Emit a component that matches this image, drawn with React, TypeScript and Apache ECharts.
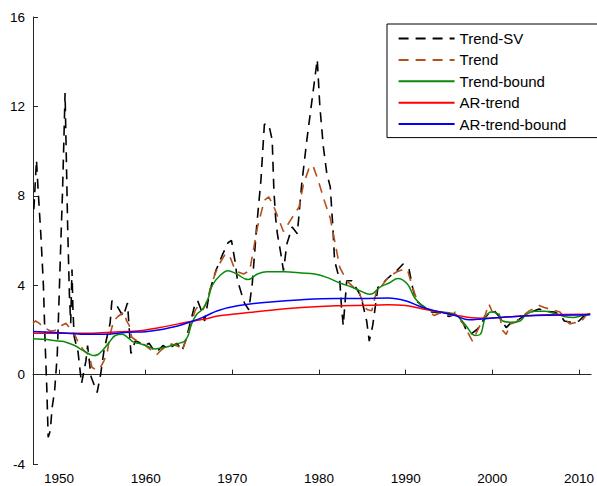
import React, { useEffect, useRef } from "react";
import * as echarts from "echarts";

const seriesNames = ["Trend-SV", "Trend", "Trend-bound", "AR-trend", "AR-trend-bound"];
const xTicks = [1950, 1960, 1970, 1980, 1990, 2000, 2010];

const trendSV: [number, number][] = [
  [1947.1, 7.4], [1947.4, 9.6], [1947.6, 8.2], [1947.9, 6.3], [1948.2, 4.0], [1948.4, 1.4],
  [1948.6, -0.7], [1948.75, -2.8], [1949.0, -2.5], [1949.2, -1.5], [1949.5, -0.7], [1949.8, 0.9],
  [1950.0, 3.3], [1950.2, 5.8], [1950.4, 8.1], [1950.55, 10.3], [1950.7, 12.6], [1950.85, 9.6],
  [1951.0, 6.6], [1951.2, 3.6], [1951.35, 2.3], [1951.5, 4.7], [1951.6, 3.0], [1951.75, 1.7],
  [1952.2, 1.0], [1952.6, -0.4], [1953.1, 0.6], [1953.3, 1.3], [1953.7, -0.1], [1954.4, -0.8],
  [1954.8, 0.0], [1955.2, 1.1], [1955.9, 2.3], [1956.1, 3.3], [1956.5, 3.2], [1957.4, 2.6],
  [1957.9, 3.2], [1958.3, 0.95], [1958.8, 1.5], [1959.2, 1.45], [1959.8, 1.3], [1960.4, 1.4],
  [1961.1, 1.0], [1961.5, 1.1], [1962.0, 1.3], [1962.6, 1.15], [1963.2, 1.3], [1963.6, 1.4],
  [1964.0, 1.2], [1964.2, 1.07], [1964.6, 1.5], [1965.0, 2.1], [1965.4, 2.7], [1965.7, 3.16],
  [1966.0, 3.3], [1966.5, 2.8], [1966.8, 2.4], [1967.4, 3.75], [1968.1, 4.65], [1968.9, 5.4],
  [1969.5, 5.9], [1969.9, 6.0], [1970.3, 5.1], [1970.6, 4.2], [1971.4, 3.2], [1971.9, 2.9],
  [1972.3, 4.07], [1972.8, 6.6], [1973.3, 8.7], [1973.7, 11.2], [1974.2, 11.2], [1974.6, 10.5],
  [1974.8, 8.2], [1975.0, 7.0], [1975.2, 6.3], [1975.6, 5.4], [1975.9, 4.65], [1976.3, 5.85],
  [1976.9, 6.6], [1977.5, 6.3], [1978.0, 8.5], [1978.6, 10.5], [1979.2, 12.3], [1979.8, 14.1],
  [1980.1, 12.0], [1980.5, 10.2], [1980.9, 9.0], [1981.3, 8.4], [1981.6, 6.6], [1981.8, 5.1],
  [1982.4, 4.2], [1982.6, 3.0], [1982.8, 2.2], [1983.2, 4.2], [1983.8, 4.2], [1984.7, 3.6],
  [1984.9, 3.4], [1985.5, 2.4], [1985.8, 1.5], [1986.2, 2.2], [1986.8, 3.9], [1987.4, 4.1],
  [1987.9, 4.3], [1989.1, 4.7], [1989.7, 4.95], [1990.4, 4.7], [1990.8, 3.9], [1991.2, 3.3],
  [1991.9, 3.1], [1993.0, 2.8], [1994.2, 2.75], [1995.0, 2.6], [1995.7, 2.7], [1996.7, 2.27],
  [1997.0, 1.97], [1997.6, 1.83], [1998.3, 2.04], [1998.9, 2.4], [1999.5, 2.7], [2000.2, 2.86],
  [2000.9, 2.56], [2001.6, 2.1], [2002.2, 2.34], [2003.0, 2.45], [2003.7, 2.64], [2004.5, 2.8],
  [2005.4, 2.94], [2006.2, 2.83], [2007.2, 2.8], [2007.9, 2.64], [2008.3, 2.4], [2009.1, 2.34],
  [2010.0, 2.4], [2010.6, 2.64], [2011.3, 2.7],
];

const trend: [number, number][] = [
  [1947.0, 2.3], [1947.3, 2.4], [1947.7, 2.3], [1948.3, 2.1], [1949.0, 1.95], [1949.5, 1.97],
  [1949.9, 2.1], [1950.3, 2.2], [1950.8, 2.3], [1951.2, 2.1], [1951.8, 1.8], [1952.3, 1.37],
  [1952.9, 1.07], [1953.5, 0.85], [1953.8, 0.33], [1954.3, 0.2], [1954.8, 0.33], [1955.2, 0.63],
  [1955.6, 1.07], [1955.9, 1.8], [1956.3, 2.4], [1956.8, 2.6], [1957.5, 2.8], [1957.8, 2.4],
  [1958.1, 2.2], [1958.4, 1.67], [1959.2, 1.45], [1959.8, 1.35], [1960.7, 1.07], [1961.3, 0.9],
  [1961.8, 1.1], [1962.5, 1.3], [1963.0, 1.37], [1963.5, 1.3], [1964.0, 1.22], [1964.2, 1.07],
  [1964.7, 1.6], [1965.3, 2.34], [1965.7, 2.86], [1966.1, 3.1], [1966.6, 2.9], [1967.0, 3.2],
  [1967.5, 3.9], [1968.0, 4.5], [1968.5, 4.95], [1969.2, 5.4], [1969.7, 5.3], [1970.2, 4.8],
  [1970.6, 4.6], [1971.3, 4.5], [1972.0, 4.65], [1972.4, 5.5], [1972.9, 6.6], [1973.7, 7.8],
  [1974.2, 7.95], [1974.7, 7.6], [1975.4, 6.9], [1975.9, 6.4], [1976.7, 6.9], [1977.7, 7.5],
  [1978.2, 8.5], [1978.9, 9.3], [1979.3, 9.35], [1979.9, 8.7], [1980.6, 7.8], [1981.3, 7.0],
  [1981.8, 6.0], [1982.4, 4.8], [1983.2, 4.2], [1984.0, 3.9], [1984.7, 3.6], [1985.3, 3.0],
  [1985.6, 2.9], [1986.1, 2.86], [1986.6, 3.68], [1987.4, 4.05], [1988.1, 4.4], [1989.0, 4.6],
  [1989.7, 4.7], [1990.2, 4.7], [1990.8, 3.9], [1991.4, 3.23], [1992.3, 2.94], [1993.3, 2.64],
  [1994.2, 2.8], [1995.4, 2.64], [1995.7, 2.8], [1996.3, 2.5], [1997.3, 1.8], [1997.7, 1.5],
  [1998.2, 1.9], [1999.2, 2.7], [1999.6, 3.16], [2000.0, 2.8], [2000.7, 2.86], [2001.2, 1.97],
  [2001.6, 1.8], [2002.1, 2.27], [2002.7, 2.34], [2003.3, 2.56], [2004.3, 2.86], [2005.4, 3.09],
  [2006.0, 3.0], [2007.3, 2.86], [2007.8, 2.8], [2008.3, 2.56], [2008.9, 2.27], [2009.8, 2.34],
  [2010.3, 2.4], [2010.8, 2.64], [2011.3, 2.74],
];

const trendBound: [number, number][] = [
  [1947.0, 1.6], [1948.0, 1.58], [1949.0, 1.55], [1950.0, 1.5], [1950.8, 1.45], [1951.8, 1.3],
  [1952.8, 1.07], [1953.5, 0.92], [1954.0, 0.85], [1954.5, 0.9], [1955.0, 1.07], [1955.8, 1.45],
  [1956.5, 1.75], [1957.3, 1.8], [1957.9, 1.67], [1958.6, 1.45], [1959.2, 1.4], [1960.0, 1.3],
  [1961.1, 1.15], [1962.0, 1.2], [1963.0, 1.3], [1964.0, 1.42], [1964.5, 1.5], [1964.9, 1.75],
  [1965.3, 2.27], [1965.9, 2.7], [1966.6, 2.94], [1967.2, 3.4], [1967.7, 4.0], [1968.5, 4.4],
  [1969.5, 4.65], [1970.5, 4.5], [1971.8, 4.25], [1972.9, 4.5], [1974.0, 4.6], [1976.0, 4.6],
  [1978.0, 4.55], [1979.5, 4.5], [1980.9, 4.35], [1982.4, 4.1], [1983.9, 3.9], [1985.0, 3.7],
  [1985.8, 3.6], [1986.3, 3.65], [1987.0, 3.9], [1988.1, 4.1], [1989.1, 4.3], [1990.2, 4.05],
  [1991.0, 3.46], [1991.7, 3.16], [1992.9, 2.86], [1994.2, 2.8], [1995.7, 2.7], [1996.9, 2.22],
  [1998.0, 1.75], [1998.6, 1.8], [1999.2, 2.56], [1999.9, 2.8], [2000.7, 2.7], [2001.2, 2.4],
  [2002.2, 2.34], [2003.2, 2.4], [2003.9, 2.68], [2004.9, 2.83], [2006.0, 2.83], [2007.2, 2.74],
  [2008.3, 2.6], [2009.4, 2.56], [2010.4, 2.64], [2011.3, 2.74],
];

const arTrend: [number, number][] = [
  [1947.0, 1.85], [1950.0, 1.85], [1953.0, 1.85], [1956.0, 1.9], [1959.0, 1.95], [1961.5, 2.1],
  [1963.8, 2.27], [1965.5, 2.4], [1967.0, 2.5], [1968.3, 2.62], [1970.6, 2.72], [1974.4, 2.88],
  [1978.0, 3.0], [1982.0, 3.08], [1986.0, 3.1], [1988.0, 3.13], [1990.0, 3.09], [1992.0, 2.94],
  [1994.0, 2.8], [1996.0, 2.65], [1997.6, 2.54], [1999.0, 2.52], [2001.0, 2.56], [2005.0, 2.66],
  [2011.3, 2.7],
];

const arTrendBound: [number, number][] = [
  [1947.0, 1.93], [1950.0, 1.87], [1953.5, 1.8], [1956.0, 1.82], [1958.0, 1.9], [1960.0, 1.92],
  [1961.5, 2.0], [1963.8, 2.19], [1965.5, 2.4], [1966.8, 2.6], [1968.3, 2.86], [1970.6, 3.08],
  [1974.4, 3.25], [1978.0, 3.35], [1982.0, 3.4], [1985.0, 3.4], [1988.0, 3.43], [1990.0, 3.3],
  [1992.0, 3.0], [1994.0, 2.8], [1995.7, 2.64], [1997.3, 2.45], [1998.8, 2.49], [2001.0, 2.56],
  [2005.0, 2.64], [2011.3, 2.68],
];

const FONT = "'Liberation Sans', Arial, sans-serif";

export default function App() {
  const ref = useRef<HTMLDivElement>(null);
  useEffect(() => {
    if (!ref.current) return;
    const chart = echarts.init(ref.current, undefined, { renderer: "svg" });
    const lineSeries = (name: string, data: [number, number][], color: string, type: any, width: number, smooth: number | boolean) => ({
      name,
      type: "line",
      data,
      symbol: "none",
      showSymbol: false,
      smooth,
      lineStyle: { color, width, type },
      itemStyle: { color },
      z: 2,
    });
    chart.setOption({
      animation: false,
      textStyle: { fontFamily: FONT },
      grid: { left: 33, right: 0, top: 17, bottom: 22, containLabel: false },
      legend: {
        orient: "vertical",
        left: 387,
        top: 24,
        padding: [7, 40, 6, 10.6],
        itemWidth: 56,
        itemHeight: 14,
        itemGap: 6.4,
        borderColor: "#000",
        borderWidth: 1,
        backgroundColor: "#fff",
        itemStyle: { opacity: 0 },
        textStyle: { fontSize: 15, color: "#000", fontFamily: FONT, lineHeight: 14 },
        data: seriesNames,
      },
      xAxis: {
        type: "value",
        min: 1947,
        max: 2011.4,
        splitLine: { show: false },
        axisLine: { lineStyle: { color: "#262626", width: 1 } },
        axisTick: { inside: true, length: 5, customValues: xTicks, lineStyle: { color: "#262626" } },
        axisLabel: {
          customValues: xTicks,
          fontSize: 13.5,
          color: "#000",
          margin: 7,
          fontFamily: FONT,
          formatter: (v: number) => String(v),
        },
      },
      yAxis: {
        type: "value",
        min: -4,
        max: 16,
        interval: 4,
        splitLine: { show: false },
        axisLine: { show: true, lineStyle: { color: "#262626", width: 1 } },
        axisTick: { show: true, inside: true, length: 5, lineStyle: { color: "#262626" } },
        axisLabel: { fontSize: 13.5, color: "#000", margin: 8, fontFamily: FONT },
      },
      series: [
        lineSeries(seriesNames[0], trendSV, "#000000", [10, 7], 1.6, false),
        lineSeries(seriesNames[1], trend, "#b4501e", [10, 7], 1.6, false),
        lineSeries(seriesNames[2], trendBound, "#0a8a0a", "solid", 1.5, 0.4),
        lineSeries(seriesNames[3], arTrend, "#ff0000", "solid", 1.5, 0.4),
        lineSeries(seriesNames[4], arTrendBound, "#0000ff", "solid", 1.5, 0.4),
      ],
    });
    return () => chart.dispose();
  }, []);
  return (
    <div
      ref={ref}
      style={{ position: "fixed", left: 0, top: 0, width: 597, height: 486, background: "#fff" }}
    />
  );
}
